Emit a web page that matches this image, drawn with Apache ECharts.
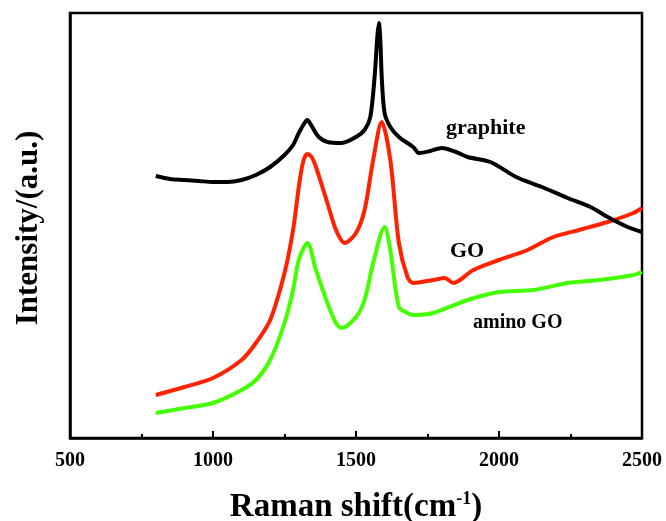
<!DOCTYPE html>
<html>
<head>
<meta charset="utf-8">
<script src="https://cdn.jsdelivr.net/npm/echarts@6/dist/echarts.min.js"></script>
<style>html,body{margin:0;padding:0;background:#fff}#c{width:666px;height:521px}</style>
</head>
<body>
<div id="c"></div>
<script>
// Raman shift (cm-1) and intensity (a.u.)
var graphiteX = [800,850,900,950,1000,1050,1100,1150,1200,1250,1280,1300,1320,1330,1345,1370,1400,1450,1500,1530,1550,1565,1575,1580,1585,1590,1600,1620,1650,1700,1720,1760,1800,1850,1890,1970,2060,2150,2240,2320,2380,2450,2500];
var graphiteY = [262,259,258,257,256,256,258,263,271,283,293,305,315,318,312,301,296,295,301,308,321,361,403,415,398,361,325,311,301,291,285,287,290,286,281,276,261,251,240,231,221,211,206];

var goX = [800,900,1000,1100,1150,1200,1250,1280,1300,1315,1330,1345,1360,1400,1430,1460,1500,1530,1560,1590,1620,1650,1680,1700,1770,1810,1840,1910,2000,2100,2190,2280,2380,2470,2500];
var goY = [43,51,60,78,95,118,165,208,251,276,284,281,271,235,208,195,205,228,278,316,278,195,161,155,158,160,155,168,178,188,201,208,216,225,230];

var aminoX = [800,900,1000,1100,1150,1200,1250,1280,1300,1330,1360,1400,1430,1450,1500,1530,1560,1600,1620,1650,1680,1700,1770,1890,2000,2120,2240,2350,2470,2500];
var aminoY = [25,30,35,48,58,78,115,148,178,195,168,135,115,110,121,138,175,211,188,131,125,123,125,138,146,148,155,158,163,166];

var xTicks = [500,1000,1500,2000,2500];
var seriesNames = ['graphite','GO','amino GO'];

function pairs(xs, ys){ return xs.map(function(x,i){ return [x, ys[i]]; }); }

var FONT = "'Times New Roman','Liberation Serif',serif";
var chart = echarts.init(document.getElementById('c'));
chart.setOption({
  animation: false,
  grid: {left: 70, right: 24, top: 13, bottom: 83, show: true, borderColor: '#000', borderWidth: 2.5},
  xAxis: [{
    type: 'value', min: xTicks[0], max: xTicks[xTicks.length-1], interval: 500,
    axisLine: {lineStyle: {color: '#000', width: 2.5}},
    axisTick: {inside: true, length: 7, lineStyle: {color: '#000', width: 2}},
    splitLine: {show: false},
    axisLabel: {color: '#000', fontFamily: FONT, fontWeight: 'bold', fontSize: 20, margin: 13,
      formatter: function(v){ return String(v); }}
  }, {
    type: 'value', min: xTicks[0], max: xTicks[xTicks.length-1], interval: 250, position: 'bottom',
    axisLine: {show: false},
    axisTick: {inside: true, length: 4, lineStyle: {color: '#000', width: 2}},
    axisLabel: {show: false}, splitLine: {show: false}
  }],
  yAxis: {
    type: 'value', min: 0, max: 425,
    axisLine: {show: true, lineStyle: {color: '#000', width: 2.5}},
    axisTick: {show: false}, axisLabel: {show: false}, splitLine: {show: false}
  },
  series: [
    {name: seriesNames[0], type: 'line', data: pairs(graphiteX, graphiteY), smooth: 0.3, showSymbol: false, lineStyle: {color: '#000', width: 4}, z: 3},
    {name: seriesNames[1], type: 'line', data: pairs(goX, goY), smooth: 0.3, showSymbol: false, lineStyle: {color: '#ff2200', width: 4}, z: 2},
    {name: seriesNames[2], type: 'line', data: pairs(aminoX, aminoY), smooth: 0.3, showSymbol: false, lineStyle: {color: '#44ff00', width: 4}, z: 1}
  ],
  graphic: [
    {type: 'text', left: 446, top: 117, style: {text: seriesNames[0], font: 'bold 22px ' + FONT, fill: '#000'}},
    {type: 'text', left: 450, top: 240, style: {text: seriesNames[1], font: 'bold 22px ' + FONT, fill: '#000'}},
    {type: 'text', left: 473, top: 313, style: {text: seriesNames[2], font: 'bold 20px ' + FONT, fill: '#000'}},
    {type: 'text', x: 356, y: 507, style: {text: 'Raman shift(cm{s|-1}{n|)}', font: 'bold 33px ' + FONT, fill: '#000', align: 'center', verticalAlign: 'middle',
      rich: {s: {fontSize: 18, fontWeight: 'bold', fontFamily: FONT, verticalAlign: 'top', lineHeight: 33}, n: {fontSize: 33, fontWeight: 'bold', fontFamily: FONT}}}},
    {type: 'text', x: 29, y: 228, rotation: Math.PI/2, style: {text: 'Intensity/(a.u.)', font: 'bold 31px ' + FONT, fill: '#000', align: 'center', verticalAlign: 'middle'}}
  ]
});
</script>
</body>
</html>
